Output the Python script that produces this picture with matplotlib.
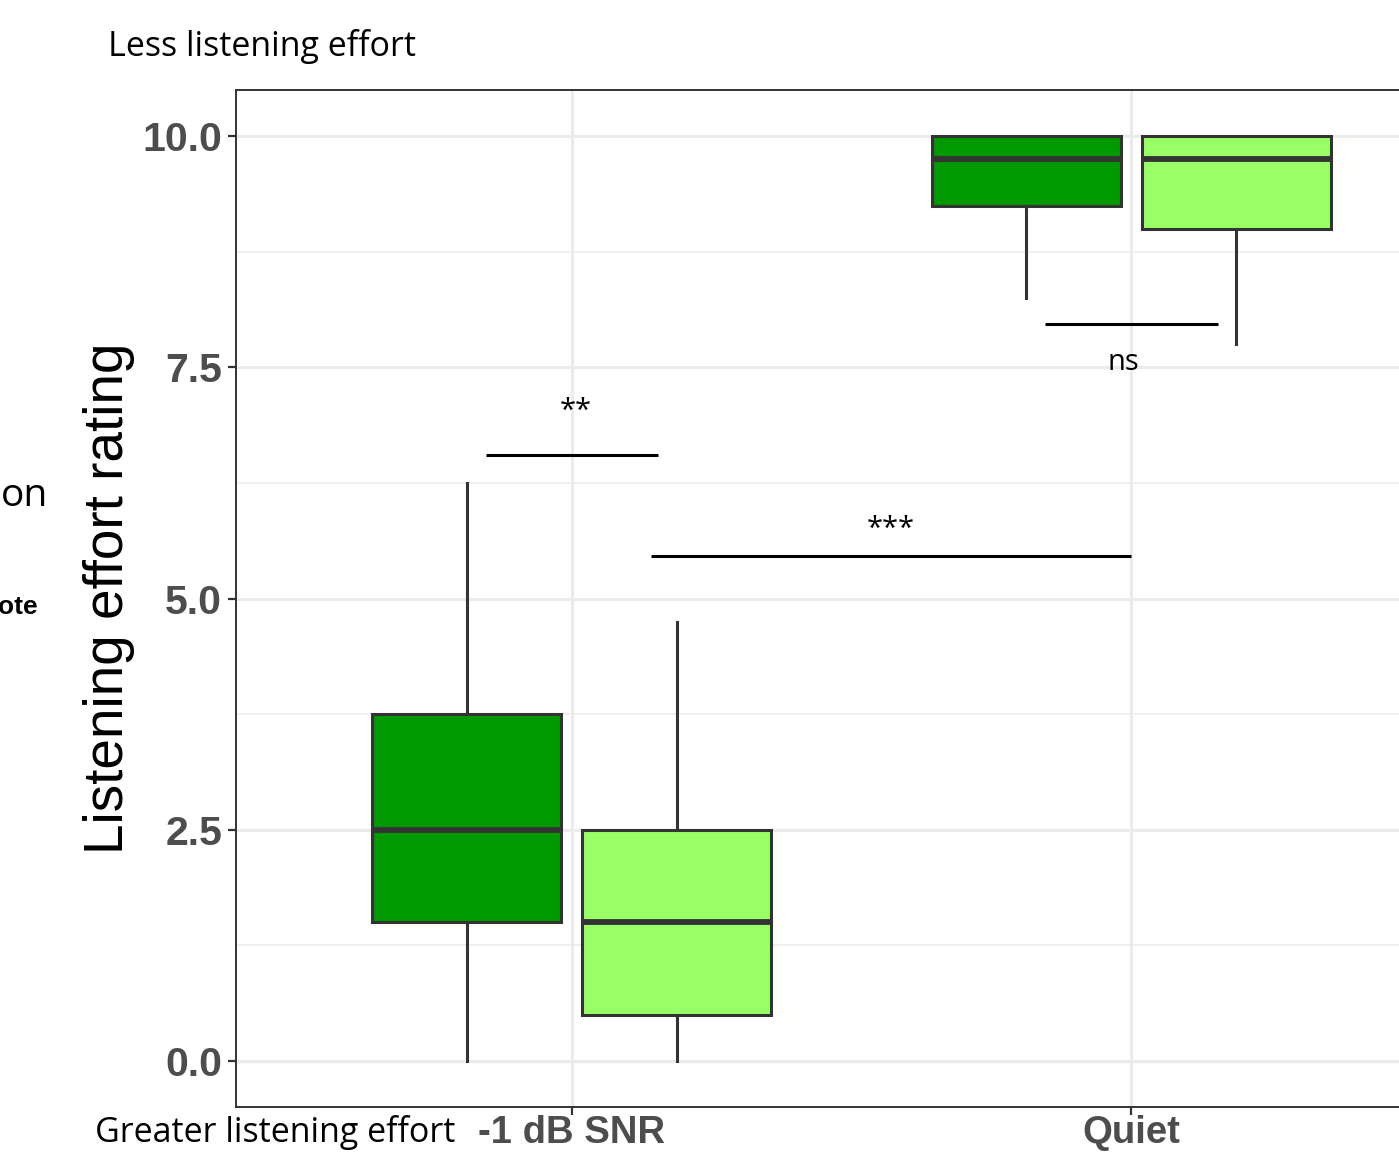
import matplotlib
matplotlib.use("Agg")
import matplotlib.pyplot as plt
import numpy as np

# data
conditions = ["-1 dB SNR", "Quiet"]
groups = ["A", "B"]
box_colors = ["#009900", "#99ff66"]

whislo = [[0.0, 0.0], [8.25, 7.75]]
q1 = [[1.5, 0.5], [9.25, 9.0]]
med = [[2.5, 1.5], [9.75, 9.75]]
q3 = [[3.75, 2.5], [10.0, 10.0]]
whishi = [[6.25, 4.75], [10.0, 10.0]]

# significance brackets: x start, x end, y, label, label x, label y
sig_x0 = [0.846, 1.141, 1.846]
sig_x1 = [1.155, 2.0, 2.155]
sig_y = [6.55, 5.46, 7.97]
sig_labels = ["**", "***", "ns"]
sig_label_x = [1.007, 1.57, 1.986]
sig_label_y = [7.02, 5.75, 7.55]

W, H = 1399, 1153
fig = plt.figure(figsize=(W / 100, H / 100), dpi=100)
ax = fig.add_axes([236 / W, 46 / H, 1231 / W, 1017 / H])

edge = "#333333"
dodge = 0.1875
width = 0.3375
for i, cond in enumerate(conditions):
    for j, g in enumerate(groups):
        pos = i + 1 + (j - 0.5) * 2 * dodge
        stats = [dict(whislo=whislo[i][j], q1=q1[i][j], med=med[i][j],
                      q3=q3[i][j], whishi=whishi[i][j], fliers=[])]
        ax.bxp(stats, positions=[pos], widths=width, patch_artist=True,
               showcaps=False, manage_ticks=False,
               boxprops=dict(facecolor=box_colors[j], edgecolor=edge, linewidth=2.2),
               medianprops=dict(color=edge, linewidth=4.2),
               whiskerprops=dict(color=edge, linewidth=2.2), zorder=3)

annot_font = ["Open Sans", "DejaVu Sans"]
for x0, x1, y, lab, lx, ly in zip(sig_x0, sig_x1, sig_y, sig_labels, sig_label_x, sig_label_y):
    ax.plot([x0, x1], [y, y], color="black", linewidth=2.2, solid_capstyle="butt", zorder=4)
    ax.text(lx, ly, lab, ha="center", va="center",
            fontsize=21, family=annot_font, zorder=4)

ax.set_xlim(0.4, 2.6)
ax.set_ylim(-0.5, 10.5)
ax.set_xticks([1, 2])
ax.set_xticklabels(conditions)
ax.set_yticks([0, 2.5, 5, 7.5, 10])
ax.set_yticklabels(["0.0", "2.5", "5.0", "7.5", "10.0"])
ax.set_yticks([1.25, 3.75, 6.25, 8.75], minor=True)
ax.grid(True, which="major", color="#ebebeb", linewidth=2.2, zorder=0)
ax.grid(True, which="minor", axis="y", color="#ebebeb", linewidth=1.1, zorder=0)
ax.set_axisbelow(True)
for s in ax.spines.values():
    s.set_color(edge)
    s.set_linewidth(1.4)
ax.tick_params(axis="both", which="major", length=6, width=1.6, color=edge,
               labelcolor="#4d4d4d", labelsize=29.5)
ax.tick_params(axis="y", pad=4)
ax.tick_params(axis="x", pad=0, labelsize=27.5)
ax.tick_params(which="minor", length=0)
for lab in ax.get_xticklabels() + ax.get_yticklabels():
    lab.set_fontfamily(["Liberation Sans", "DejaVu Sans"])
    lab.set_fontweight("bold")

ax.set_ylabel("Listening effort rating", fontsize=39.5, family=["Liberation Sans", "DejaVu Sans"],
              va="center")
ax.yaxis.set_label_coords((109 - 236) / 1231, (1107 - 598) / 1017)

fig.text(108 / W, 1 - 46 / H, "Less listening effort", ha="left", va="center",
         fontsize=24.5, family=annot_font)
fig.text(95 / W, 1 - 1150 / H, "Greater listening effort", ha="left", va="bottom",
         fontsize=24.5, family=annot_font)
fig.text(1 / W, 1 - 506 / H, "on", ha="left", va="baseline",
         fontsize=28, family=annot_font)
fig.text(38 / W, 1 - 614 / H, "ote", ha="right", va="baseline",
         fontsize=19, fontweight="bold", family=["Liberation Sans", "DejaVu Sans"])

fig.savefig("out.png", dpi=100)
